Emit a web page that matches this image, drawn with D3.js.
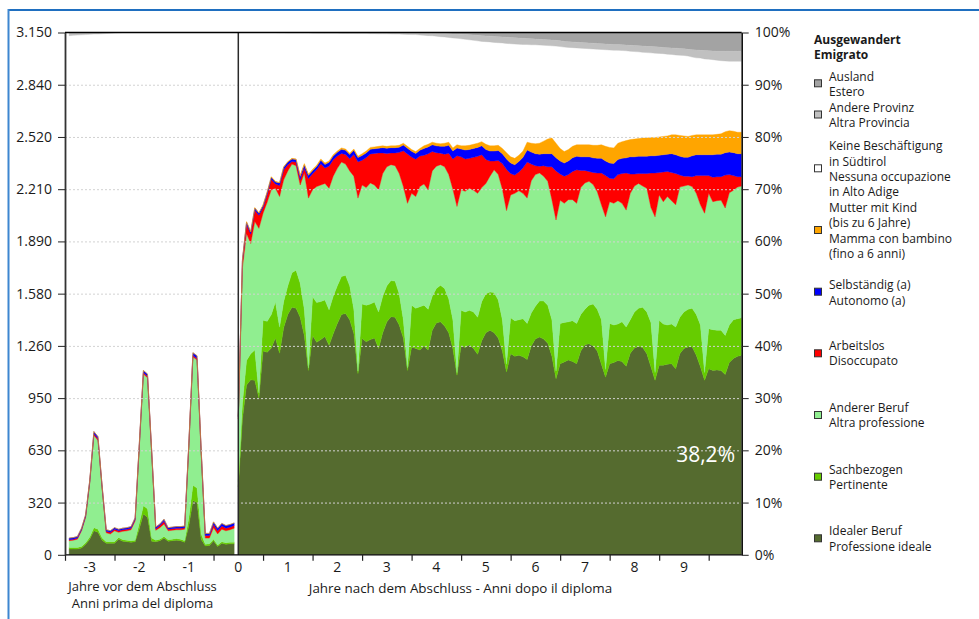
<!DOCTYPE html>
<html lang="de">
<head>
<meta charset="utf-8">
<script src="https://cdn.jsdelivr.net/npm/d3@7/dist/d3.min.js"></script>
<style>
html,body{margin:0;padding:0;background:#fff;}
svg{display:block;font-family:"Open Sans",sans-serif;}
</style>
</head>
<body>
<svg id="chart" width="979" height="619"></svg>
<script>
// ================= DATA (percent of 3.150 graduates) =================
// months relative to the diploma
const preMonths  = d3.range(-41, 0);   // -41 .. -1
const postMonths = d3.range(0, 123);   // 0 .. 122

const preIdeal = [1.1,1.1,1.1,1.3,2.0,3.0,4.6,4.3,2.8,2.2,
  2.2,2.2,3.0,2.6,2.5,2.4,2.5,5.0,7.8,7.2,
  2.6,2.5,2.7,3.2,2.6,2.7,2.8,2.7,2.4,5.5,
  10.4,10.0,3.0,1.7,1.8,2.7,1.6,2.2,2.0,2.1,
  2.1];
const preSach = [0.3,0.3,0.3,0.3,0.3,0.4,0.6,0.6,0.4,0.3,
  0.3,0.3,0.3,0.3,0.3,0.3,0.3,1.0,1.6,1.6,
  0.6,0.3,0.3,0.3,0.3,0.3,0.3,0.3,0.3,1.5,
  2.9,2.8,1.0,0.3,0.3,0.3,0.3,0.3,0.3,0.3,
  0.3];
const preAnderer = [1.3,1.4,1.6,3.0,4.9,10.4,17.7,17.0,9.5,1.7,
  1.5,2.1,1.0,1.6,1.8,2.1,3.7,14.5,25.2,25.1,
  16.3,1.9,2.2,2.4,1.7,1.7,1.7,1.8,2.2,13.5,
  24.6,24.5,15.5,1.2,1.1,2.2,2.1,2.4,2.3,2.4,
  2.7];
const preArbeitslos = [0.2,0.2,0.2,0.2,0.2,0.2,0.3,0.3,0.2,0.3,
  0.3,0.3,0.3,0.3,0.3,0.3,0.3,0.3,0.3,0.3,
  0.3,0.3,0.4,0.5,0.3,0.3,0.3,0.3,0.3,0.3,
  0.3,0.3,0.3,0.5,0.5,0.6,0.6,0.6,0.5,0.5,
  0.5];
const preSelbst = [0.3,0.3,0.3,0.3,0.3,0.3,0.4,0.4,0.3,0.3,
  0.3,0.3,0.3,0.3,0.3,0.3,0.3,0.4,0.4,0.4,
  0.3,0.3,0.3,0.4,0.3,0.3,0.3,0.3,0.3,0.4,
  0.5,0.5,0.4,0.4,0.4,0.5,0.5,0.5,0.5,0.5,
  0.5];
const preProvinz = [0.6,0.55,0.5,0.45,0.4,0.35,0.3,0.3,0.25,0.2,
  0.15,0.1,0.05,0,0,0,0,0,0,0,
  0,0,0,0,0,0,0,0,0,0,
  0,0,0,0,0,0,0,0,0,0,
  0];

const postIdeal = [13,26,32.5,33.5,33.4,30,39,38.8,39.6,41.5,
  38.6,43.5,46,47.4,47.2,45.5,42,35.3,42,40.7,
  41.2,41.8,40.1,42.3,44.3,46,46.2,45,42.4,34.7,
  41.4,40.8,41.2,41.5,39.5,42.5,44.6,45.6,45.5,44,
  41.5,35.3,39.8,39.5,39.2,40,39.2,43,44.4,44.6,
  43.8,42.5,39.5,34.4,40.1,39.7,40.2,39.5,38.4,41,
  42.5,43,42.5,41.5,39,35,38.5,38,38.2,37.9,
  37.4,40,41.3,41.7,41.3,40.5,38,33.7,36.6,36.9,
  37.3,37,36.6,39,40.2,40.4,40,39,36.5,34,
  36.6,36.8,37.2,37,36.1,38.6,39.6,39.9,39.7,38.5,
  36,33.4,36.3,36.3,36.5,36.6,35.6,38.5,39.5,39.8,
  39.8,38.2,36,33.4,35.6,35.3,35.4,35.3,34.5,36.8,
  37.6,38,38.2];
const postSach = [1,3,4.7,5,5.8,1,5.9,5.9,6.4,6.9,
  5,5,5.5,6.6,7.3,6.5,5,0.5,7.4,7.6,
  7.3,7,6.8,7.2,7.2,7.3,7.3,6.5,4.6,0.5,
  6.6,7,6.8,6.9,7,7,6.9,6.9,6.9,6,
  3.5,0.5,8,7.7,8.3,7.8,7.8,6.5,6.6,7,
  7.2,6.5,5.5,0.5,6.7,6.8,6.6,7,7.1,7.5,
  7.5,7.3,7.7,7.3,6,1.5,6.9,6.8,6.8,7.3,
  6.9,6.3,6.3,6.9,7.3,7.3,7,1.5,7.7,7.6,
  7.3,7.8,7.7,7,6.8,7.4,8,8,8.5,1.5,
  7.7,7.2,7,7.6,7.5,6.4,6.9,7.3,7.7,8,
  8.5,1.5,8.6,7.9,7.5,7.6,8,7,7,7.2,
  7.4,7.8,8,1.5,7.7,7.8,7.6,7.7,7.5,7.2,
  7.4,7.2,7.2];
const postAnderer = [12,26,24.3,21.1,24.6,31.5,20.5,22.8,23.9,21.8,
  25,23.3,22,20.8,20,18.8,26.1,32.5,20.5,22.2,
  22.3,22.3,23.3,23,22.5,21.9,21.3,22,25.5,33.1,
  22.8,22.5,23.2,22.4,23.4,23.5,22.8,22.2,22.1,23,
  25.5,31.5,21.4,21.4,23,23.2,22.9,24,23.4,23.1,
  23.3,23.8,25,31.8,23.1,23.1,23.4,23.3,23.7,21.8,
  21.1,22.2,23.5,24,25,29.4,23.5,24.4,24.7,24,
  24,25.3,25.2,24.5,23.9,23.7,23,28.9,23.6,22.8,
  23.4,23.2,23,24.3,24.2,23.7,22.9,22.5,22,29.2,
  23.3,23.3,23.6,22.7,22.4,24.2,24.1,23.9,23.2,23.7,
  22,29.8,24,23.4,24.6,23.6,23.4,24.9,24.1,23.8,
  23.3,23.2,23,30.5,25.9,24.5,24.8,24.9,24.4,25.3,
  24.8,25.2,25.2];
const postArbeitslos = [0.4,1.2,1.8,1.8,2.2,2.5,1.1,1.5,2.0,0.8,
  2.1,1.9,1.2,0.5,0.7,1.05,0.95,3.75,3.05,3.25,
  4.05,2.95,4.25,3.15,2.35,1.65,1.85,2.35,4.15,6.95,
  4.75,5.75,5.55,6.05,7.05,3.95,2.55,2.25,2.45,4.05,
  6.85,9.45,6.95,7.15,5.85,5.5,6.9,3.7,2.6,2.2,
  2.4,4.1,5.8,9.7,6.3,6.2,5.7,6.3,7.1,6.3,
  4.6,2.9,1.7,2.7,4.9,7.9,4.1,3.5,3.6,4.9,
  6.9,3.2,1.7,1.3,2.0,2.8,6.3,9.4,5.0,5.2,
  4.8,5.4,6.4,3.3,2.4,1.9,2.3,3.6,6.1,7.9,
  4.5,4.7,5.0,5.7,7.1,3.7,2.3,1.9,2.4,2.8,
  6.6,8.4,4.3,5.7,4.8,5.4,6.0,2.3,1.9,1.7,
  1.9,3.4,5.6,7.2,3.4,4.7,4.6,4.5,6.3,3.5,
  2.8,2.0,1.8];
const postSelbst = [0.2,0.3,0.4,0.4,0.4,0.4,0.4,0.4,0.4,0.4,
  0.5,0.5,0.5,0.5,0.5,0.6,0.6,0.6,0.6,0.6,
  0.7,0.7,0.7,0.7,0.7,0.8,0.8,0.8,0.8,0.8,
  0.9,0.9,0.9,0.9,0.9,1.0,1.0,1.0,1.0,1.0,
  1.1,1.1,1.1,1.1,1.1,1.3,1.3,1.3,1.3,1.3,
  1.5,1.5,1.5,1.5,1.5,1.7,1.7,1.7,1.7,1.7,
  1.9,1.9,1.9,1.9,1.9,2.0,2.0,2.0,2.0,2.0,
  2.3,2.3,2.3,2.3,2.3,2.5,2.5,2.5,2.5,2.5,
  2.6,2.6,2.6,2.6,2.6,2.8,2.8,2.8,2.8,2.8,
  2.9,2.9,2.9,2.9,2.9,3.3,3.3,3.3,3.3,3.3,
  3.3,3.3,3.3,3.3,3.3,3.6,3.6,3.6,3.6,3.6,
  4.0,4.0,4.0,4.0,4.0,4.3,4.3,4.3,4.3,4.3,
  4.4,4.4,4.4];
const postMutter = [0,0,0.1,0.1,0.1,0.1,0.1,0.1,0.1,0.1,
  0.1,0.1,0.1,0.1,0.1,0.25,0.25,0.25,0.25,0.25,
  0.25,0.25,0.25,0.25,0.25,0.25,0.25,0.25,0.25,0.25,
  0.35,0.35,0.35,0.35,0.35,0.35,0.35,0.35,0.35,0.35,
  0.35,0.35,0.35,0.35,0.35,0.5,0.5,0.5,0.5,0.5,
  0.6,0.6,0.6,0.6,0.6,0.8,0.8,0.8,0.8,0.8,
  1.0,1.0,1.0,1.0,1.0,1.2,1.2,1.2,1.2,1.2,
  1.5,1.7,1.9,2.1,2.4,2.8,3.0,2.8,2.4,2.2,
  2.2,2.2,2.2,2.3,2.3,2.3,2.4,2.5,2.6,2.8,
  3.0,3.0,3.1,3.2,3.3,3.3,3.4,3.4,3.5,3.5,
  3.5,3.5,3.5,3.5,3.5,3.6,3.8,4.0,4.1,4.0,
  3.9,3.8,3.8,3.8,3.8,3.8,3.8,3.9,4.0,4.1,
  4.1,4.1,4.1];
const postProvinz = [0,0,0,0,0,0,0,0,0,0,
  0.05,0.05,0.1,0.1,0.1,0.1,0.1,0.1,0.12,0.12,
  0.15,0.15,0.15,0.15,0.15,0.18,0.18,0.18,0.2,0.2,
  0.2,0.2,0.22,0.22,0.25,0.25,0.25,0.28,0.3,0.3,
  0.3,0.32,0.35,0.35,0.4,0.45,0.5,0.5,0.55,0.6,
  0.65,0.7,0.75,0.8,0.85,0.9,0.95,1.0,1.05,1.1,
  1.1,1.1,1.15,1.15,1.15,1.2,1.2,1.2,1.2,1.2,
  1.15,1.15,1.1,1.1,1.1,1.1,1.1,1.1,1.1,1.1,
  1.1,1.1,1.1,1.1,1.1,1.1,1.1,1.1,1.1,1.1,
  1.1,1.1,1.1,1.1,1.1,1.15,1.15,1.15,1.2,1.2,
  1.2,1.2,1.2,1.2,1.25,1.25,1.3,1.3,1.3,1.3,
  1.4,1.5,1.5,1.6,1.6,1.65,1.7,1.8,1.85,1.9,
  1.9,1.9,1.9];
const postAusland = [0,0,0,0,0,0,0,0,0,0,
  0,0,0,0,0,0,0,0,0,0,
  0,0,0,0,0,0,0,0,0,0,
  0,0,0,0,0,0,0,0,0,0,
  0.05,0.05,0.05,0.05,0.08,0.1,0.1,0.12,0.15,0.2,
  0.2,0.25,0.3,0.3,0.35,0.4,0.45,0.5,0.55,0.6,
  0.65,0.7,0.75,0.8,0.85,0.9,0.95,1.0,1.05,1.1,
  1.15,1.2,1.25,1.3,1.35,1.4,1.45,1.5,1.6,1.7,
  1.75,1.8,1.85,1.9,1.95,2.0,2.05,2.1,2.15,2.2,
  2.25,2.3,2.3,2.35,2.4,2.45,2.5,2.55,2.6,2.65,
  2.7,2.75,2.8,2.85,2.9,2.95,3.0,3.05,3.1,3.2,
  3.3,3.35,3.4,3.45,3.5,3.55,3.6,3.6,3.6,3.6,
  3.6,3.6,3.6];

const countTickValues = [0,315,630,945,1260,1575,1890,2205,2520,2835,3150];
const countTickLabels = ["0","320","630","950","1.260","1.580","1.890","2.210","2.520","2.840","3.150"];
const pctTickValues   = [0,10,20,30,40,50,60,70,80,90,100];
const yearLabels      = ["-3","-2","-1","0","1","2","3","4","5","6","7","8","9"];
const yearTicks       = [-3.5,-2.5,-1.5,-0.5,0.5,1.5,2.5,3.5,4.5,5.5,6.5,7.5,8.5,9.5];

const legendTitle = ["Ausgewandert","Emigrato"];
const legendOrder = ["ausland","provinz","keine","mutter","selbst","arbeitslos","anderer","sach","ideal"];
const seriesLabels = {
  ausland:["Ausland","Estero"],
  provinz:["Andere Provinz","Altra Provincia"],
  keine:["Keine Beschäftigung","in Südtirol","Nessuna occupazione","in Alto Adige"],
  mutter:["Mutter mit Kind","(bis zu 6 Jahre)","Mamma con bambino","(fino a 6 anni)"],
  selbst:["Selbständig (a)","Autonomo (a)"],
  arbeitslos:["Arbeitslos","Disoccupato"],
  anderer:["Anderer Beruf","Altra professione"],
  sach:["Sachbezogen","Pertinente"],
  ideal:["Idealer Beruf","Professione ideale"]
};
const axisTitlePre  = ["Jahre vor dem Abschluss","Anni prima del diploma"];
const axisTitlePost = "Jahre nach dem Abschluss - Anni dopo il diploma";

// ================= STYLE / LAYOUT =================
const colors = {ideal:"#556b2f", sach:"#66cc00", anderer:"#90ee90", arbeitslos:"#ff0000",
  selbst:"#0000ff", mutter:"#ffa500", keine:"#ffffff", provinz:"#c0c0c0", ausland:"#a3a3a3"};
const L = {left:65, right:741.7, top:32.5, bottom:554.8};
const legendLineY  = [76.5,107.3,146,207.7,285,345.7,407.7,469.3,531];
const legendSwatchY= [83.3,114.5,168.3,230,291.7,353.3,415,476.7,538.3];
const lineStep = 15.3;

const svg = d3.select("#chart");
const textColor = "#1a1a1a";

// blue frame
svg.append("line").attr("x1",8).attr("x2",979).attr("y1",10).attr("y2",10)
  .attr("stroke","#1f6fc0").attr("stroke-width",2);
svg.append("line").attr("x1",8.5).attr("x2",8.5).attr("y1",9).attr("y2",619)
  .attr("stroke","#3d86d0").attr("stroke-width",2);

const x = d3.scaleLinear().domain([-42, 122]).range([L.left, L.right]);
const y = d3.scaleLinear().domain([0, 100]).range([L.bottom, L.top]);
const yCount = d3.scaleLinear().domain([0, 3150]).range([L.bottom, L.top]);

// rows
const preRows = preMonths.map((m,i)=>({m, ideal:preIdeal[i], sach:preSach[i], anderer:preAnderer[i],
  arbeitslos:preArbeitslos[i], selbst:preSelbst[i], provinz:preProvinz[i]}));
const postRows = postMonths.map((m,i)=>({m, ideal:postIdeal[i], sach:postSach[i], anderer:postAnderer[i],
  arbeitslos:postArbeitslos[i], selbst:postSelbst[i], mutter:postMutter[i],
  provinz:postProvinz[i], ausland:postAusland[i]}));

const bottomKeys = ["ideal","sach","anderer","arbeitslos","selbst","mutter"];
const topKeys = ["ausland","provinz"];
const stackB = d3.stack().keys(bottomKeys).value((d,k)=> d[k] ?? 0);
const stackT = d3.stack().keys(topKeys).value((d,k)=> d[k] ?? 0);
const areaB = d3.area().x(d=>x(d.data.m)).y0(d=>y(d[0])).y1(d=>y(d[1]));
const areaT = d3.area().x(d=>x(d.data.m)).y0(d=>y(100-d[0])).y1(d=>y(100-d[1]));

svg.append("clipPath").attr("id","plotclip").append("rect")
  .attr("x",L.left).attr("y",L.top).attr("width",L.right-L.left).attr("height",L.bottom-L.top);
const plot = svg.append("g").attr("clip-path","url(#plotclip)");

[preRows, postRows].forEach(rows=>{
  stackB(rows).forEach(s=>{
    plot.append("path").attr("d",areaB(s)).attr("fill",colors[s.key])
      .attr("stroke",colors[s.key]).attr("stroke-width",0.4);
  });
  stackT(rows).forEach(s=>{
    plot.append("path").attr("d",areaT(s)).attr("fill",colors[s.key])
      .attr("stroke",colors[s.key]).attr("stroke-width",0.4);
  });
});

// dotted grid lines
plot.selectAll("line.grid").data(pctTickValues.filter(v=>v>0 && v<100)).join("line")
  .attr("class","grid").attr("x1",L.left).attr("x2",L.right)
  .attr("y1",d=>y(d)+0.5).attr("y2",d=>y(d)+0.5)
  .attr("stroke","#d2d2d2").attr("stroke-width",1).attr("stroke-dasharray","2,2");

// zero line (diploma)
svg.append("line").attr("x1",x(0)).attr("x2",x(0)).attr("y1",L.top).attr("y2",L.bottom)
  .attr("stroke","#2a2a2a").attr("stroke-width",1.5);

// frame lines
svg.append("line").attr("x1",L.left).attr("x2",L.right).attr("y1",L.top).attr("y2",L.top)
  .attr("stroke","#000").attr("stroke-width",1.3);
svg.append("line").attr("x1",L.left).attr("x2",L.right).attr("y1",L.bottom).attr("y2",L.bottom)
  .attr("stroke","#000").attr("stroke-width",1.3);

// left axis
const gl = svg.append("g").attr("transform",`translate(${L.left},0)`)
  .call(d3.axisLeft(yCount).tickValues(countTickValues).tickFormat((d,i)=>countTickLabels[i])
    .tickSize(7).tickSizeOuter(0).tickPadding(6));
gl.select(".domain").attr("stroke","#333").attr("stroke-width",1.8);
gl.selectAll(".tick line").attr("stroke","#222");
gl.selectAll("text").attr("font-family","Open Sans").attr("font-size",14).attr("fill",textColor);

// right axis
const gr = svg.append("g").attr("transform",`translate(${L.right},0)`)
  .call(d3.axisRight(y).tickValues(pctTickValues).tickFormat(d=>d+"%")
    .tickSize(7).tickSizeOuter(0).tickPadding(6));
gr.select(".domain").attr("stroke","#111").attr("stroke-width",1.6);
gr.selectAll(".tick line").attr("stroke","#222");
gr.selectAll("text").attr("font-family","Open Sans").attr("font-size",14).attr("fill",textColor);

// bottom axis (ticks between years)
const gb = svg.append("g").attr("transform",`translate(0,${L.bottom})`)
  .call(d3.axisBottom(x).tickValues(yearTicks.map(v=>v*12)).tickFormat("")
    .tickSize(6).tickSizeOuter(0));
gb.select(".domain").remove();
gb.selectAll(".tick line").attr("stroke","#222").attr("stroke-width",1.2);

svg.append("g").selectAll("text").data(yearLabels).join("text")
  .attr("x",d=>x(+d*12)).attr("y",571.5).attr("text-anchor","middle")
  .attr("font-size",14).attr("fill",textColor).text(d=>d);

// axis titles
svg.append("g").selectAll("text").data(axisTitlePre).join("text")
  .attr("x",142.5).attr("y",(d,i)=>591+i*16.6).attr("text-anchor","middle")
  .attr("font-size",13).attr("fill",textColor).text(d=>d);
svg.append("text").attr("x",460.5).attr("y",592.5).attr("text-anchor","middle")
  .attr("font-size",13.4).attr("fill",textColor).text(axisTitlePost);

// value label of last "Idealer Beruf" point
const lastIdeal = postIdeal[postIdeal.length-1];
svg.append("text").attr("x",735).attr("y",461.5).attr("text-anchor","end")
  .attr("font-size",21).attr("fill","#ffffff")
  .text(d3.format(".1f")(lastIdeal).replace(".",",")+"%");

// legend
const lg = svg.append("g");
lg.selectAll("text.title").data(legendTitle).join("text").attr("class","title")
  .attr("x",814).attr("y",(d,i)=>43.8+i*lineStep).attr("font-size",12).attr("font-weight","bold")
  .attr("fill",textColor).text(d=>d);
legendOrder.forEach((k,i)=>{
  lg.append("rect").attr("x",814.5).attr("y",legendSwatchY[i]-3.5).attr("width",7).attr("height",7)
    .attr("fill",colors[k]).attr("stroke","#333").attr("stroke-width",1);
  seriesLabels[k].forEach((t,j)=>{
    lg.append("text").attr("x",829).attr("y",legendLineY[i]+4.3+j*lineStep)
      .attr("font-size",12).attr("fill",textColor).text(t);
  });
});
</script>
</body>
</html>
